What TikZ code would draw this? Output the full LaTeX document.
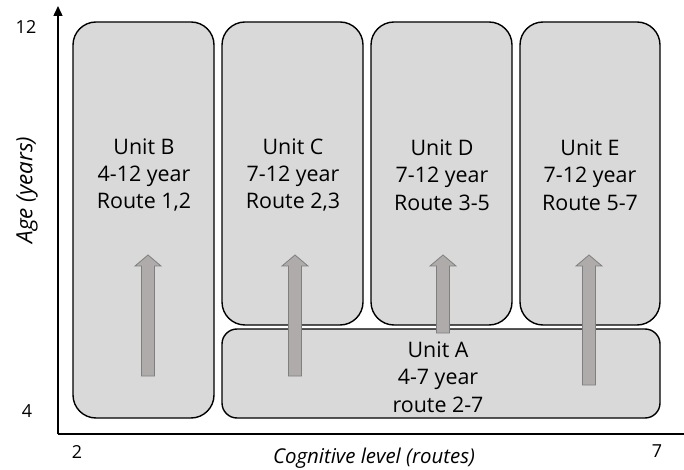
\documentclass[tikz,border=0pt]{standalone}
\usepackage{fontspec}
\setmainfont{Open Sans}
\usetikzlibrary{arrows.meta}
\definecolor{boxfill}{HTML}{D9D9D9}
\definecolor{arrfill}{HTML}{AFABAB}
\definecolor{arrline}{HTML}{7F7F7F}
\tikzset{
  unitbox/.style={draw=black, line width=1.4bp, fill=boxfill},
  unittext/.style={align=center, font=\fontsize{21.5}{27.5}\selectfont, inner sep=0pt},
  axislbl/.style={font=\fontsize{18}{20}\selectfont, inner sep=0pt},
  axisname/.style={font=\itshape\fontsize{20.5}{22}\selectfont, inner sep=0pt},
  bigarr/.style={draw=arrline, line width=0.8bp, fill=arrfill},
  axisline/.style={draw=black, line width=1.4bp}
}
\newcommand\uparrowshape[3]{%
  \draw[bigarr] (#1-6.5,#3) -- (#1+6.5,#3) -- (#1+6.5,#2+11) -- (#1+13,#2+11)
    -- (#1,#2) -- (#1-13,#2+11) -- (#1-6.5,#2+11) -- cycle;}
\begin{document}
\begin{tikzpicture}[x=1bp, y=-1bp]
\useasboundingbox (0,0) rectangle (684,470);
% axes
\coordinate (origin) at (58,434);
\coordinate (ytop) at (58,6);
\coordinate (xend) at (684,434);
\draw[axisline, -{Triangle[width=9bp,length=10bp]}] (origin) -- (ytop);
\draw[axisline] (origin) -- (xend);
% axis labels
\node[axislbl] (y12) at (26,27) {12};
\node[axislbl] (y4) at (27,411) {4};
\node[axislbl] (x2) at (77,452) {2};
\node[axislbl] (x7) at (657,451) {7};
\node[axisname, anchor=base] (xname) at (374,463) {Cognitive level (routes)};
\node[axisname, rotate=90, font=\itshape\fontsize{22.5}{24}\selectfont] (yname) at (27,190) {Age (years)};
% boxes
\draw[unitbox, rounded corners=23bp] (73,22) rectangle (214,418);
\draw[unitbox, rounded corners=23bp] (222,22) rectangle (363,325);
\draw[unitbox, rounded corners=23bp] (371,22) rectangle (512,325);
\draw[unitbox, rounded corners=23bp] (520,22) rectangle (660,325);
\draw[unitbox, rounded corners=15bp] (222,329) rectangle (660,418);
% texts
\node[unittext] (tB) at (144,175) {Unit B\\4-12 year\\Route 1,2};
\node[unittext] (tC) at (293,175) {Unit C\\7-12 year\\Route 2,3};
\node[unittext] (tD) at (442,175) {Unit D\\7-12 year\\Route 3-5};
\node[unittext] (tE) at (590,175) {Unit E\\7-12 year\\Route 5-7};
\node[unittext] (tA) at (438,377) {Unit A\\4-7 year\\route 2-7};
% arrows
\uparrowshape{148}{255}{376}
\uparrowshape{295}{255}{376}
\uparrowshape{443}{255}{333}
\uparrowshape{589}{255}{385}
\end{tikzpicture}
\end{document}
